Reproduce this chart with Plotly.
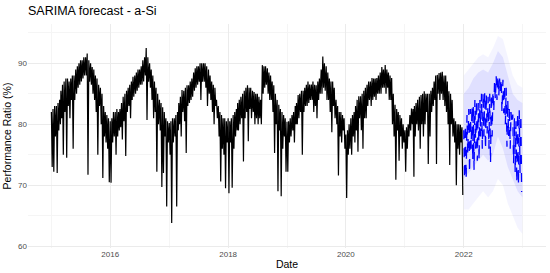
import pandas as pd
import plotly.graph_objects as go

# ---- data ----
# For each year: "top" = band top on days 1, 11, 21 of each month,
#                "low" = band low / dips on days 6, 16, 26 of each month.
years_obs = [2015, 2016, 2017, 2018, 2019, 2020, 2021]

top_2015 = [82, 82.5, 83, 83, 83.5, 84, 85.5, 86.5, 87, 87.5, 87.5, 87,
            87.5, 88, 88, 89, 89.5, 90, 90.5, 90.5, 91, 91, 91.6, 90.5,
            90, 89.4, 89, 88, 87.5, 86.5, 86, 85, 83, 82, 81.5, 81]
low_2015 = [73, 72.2, 78, 72, 79, 80, 81, 75, 82, 74.5, 83, 81,
            84, 76, 84, 85, 86, 86.5, 87, 87.5, 88, 88, 71.7, 87,
            86.5, 85, 84, 82, 75, 83, 80, 71.2, 78, 77, 76, 70.5]

top_2016 = [80.5, 81, 82, 82, 82.5, 82, 82.5, 83.5, 84.5, 85, 85.5, 86,
            86.5, 87, 87.8, 88, 88.5, 89, 89, 89.5, 90.5, 91, 92.5, 91,
            90, 89, 88, 87, 86, 85, 84, 83.5, 82.8, 82, 81, 80.5]
low_2016 = [70.4, 77, 78, 75, 78, 79, 79.5, 77.5, 80.5, 74.8, 82, 83,
            81, 84, 84.5, 85, 85.5, 86, 86.5, 86.5, 87, 88, 80.7, 87,
            86, 84, 81, 82, 72.2, 80, 79, 69.7, 72, 78, 66.5, 77]

top_2017 = [80.2, 80.5, 81, 81, 81.5, 82, 83.5, 84.5, 85.6, 85.5, 86, 86.4,
            86.4, 87, 87.5, 88.5, 89.2, 89.5, 89.5, 90, 90, 90, 90, 89.5,
            89, 88, 87, 86.5, 86, 84, 83, 82, 81.5, 81, 81, 80.5]
low_2017 = [75, 63.8, 77, 78, 66.5, 79, 80, 78, 82, 80.5, 75.3, 83,
            83.5, 84, 84.5, 85.5, 86, 86.5, 87, 84, 87, 87, 86, 83,
            85, 84, 82, 80, 83, 81, 78, 70.6, 76, 75, 69.5, 77]

top_2018 = [81, 80.5, 81, 81.5, 82, 82.5, 83.5, 84, 84.5, 85, 85.5, 86,
            86.4, 86, 86, 85.5, 85.3, 85, 85, 84.5, 84, 89.7, 89.5, 89.5,
            89.2, 88.5, 88, 87, 86.4, 85, 84, 83.2, 82.5, 82, 81.5, 81]
low_2018 = [68.7, 77, 69.6, 76, 78, 79, 79, 80, 81, 73.9, 81, 82,
            77.2, 82.5, 81, 82, 80, 81, 80, 81, 80, 85, 86, 86.5,
            85, 84, 84, 82, 75.3, 80, 69, 79, 68.2, 76, 78, 72.2]

top_2019 = [80.4, 80.5, 81, 81.5, 82, 83, 83.5, 84.8, 85, 85.5, 85.5, 86,
            86.5, 87, 86.5, 86.5, 87, 86.5, 86.4, 87, 87.5, 89, 91.1, 90,
            89.5, 88.5, 87.5, 87, 87, 86, 84, 83, 82, 82, 81.5, 81]
low_2019 = [72.2, 77, 78, 79, 77, 80, 80, 81, 82, 75, 82, 83,
            83, 83.5, 84, 84, 82, 83, 81, 84, 85, 85, 86, 85.5,
            84, 84, 82, 78.7, 83, 81, 80, 71.6, 78, 77, 79, 76]

top_2020 = [78.3, 79, 80, 81, 81.5, 82, 83, 84, 84.6, 84.6, 85, 85.5,
            86, 86.5, 87, 87, 87.6, 87.5, 87.5, 87.6, 88, 88.5, 89.4, 89,
            89.7, 89, 88.5, 88, 87.6, 85, 83.2, 82.5, 82, 81.5, 81, 80]
low_2020 = [67.9, 75, 76, 75, 78, 77, 79, 75.5, 81, 79, 76, 81,
            81, 83, 84, 83, 84, 84.5, 84, 85, 85, 85, 86, 86,
            85, 86, 84, 84, 80, 78, 70.9, 79, 74, 78, 76, 77]

top_2021 = [79, 79.5, 80, 81.5, 82.6, 82.5, 83, 83.5, 84, 84.5, 84.8, 85,
            85.4, 85, 85, 85, 85.5, 86, 87, 88, 88.1, 88.4, 88.5, 88.6,
            88, 88, 87, 85.4, 85, 84, 81, 80.5, 80, 80, 79.9, 79.5]
low_2021 = [72.2, 76, 78, 79, 80, 71.4, 78, 80, 79, 76, 80, 78,
            80, 82, 73.5, 78, 82, 83, 84, 73.5, 85, 84, 85, 84,
            83, 82, 80, 73.3, 80, 78, 77, 70, 76, 75, 77, 68.4]

# forecast for 2022 (same day layout)
fc_top_2022 = [79, 80, 81.5, 82.5, 82.5, 83, 83, 84, 84, 83.5, 84, 85,
               85.3, 85.3, 85, 84.5, 85, 85, 85.5, 87, 88, 88.1, 87.6, 87.5,
               87.3, 86.5, 86, 84, 83, 82, 81.6, 81, 80.5, 82, 82.3, 81.6]
fc_low_2022 = [71, 70.9, 75, 72, 76, 74, 72.5, 76, 74, 74, 78, 76,
               78, 75.8, 78.5, 76, 73.6, 78, 82, 84, 84, 84.5, 85, 82,
               81.8, 80, 76.3, 78, 76, 80, 73.6, 72, 70.4, 70, 72, 68.9]

# prediction intervals (1st of each month + year end)
band_dates = ["2022-01-01", "2022-02-01", "2022-03-01", "2022-04-01", "2022-05-01",
              "2022-06-01", "2022-07-01", "2022-08-01", "2022-09-01", "2022-10-01",
              "2022-11-01", "2022-12-01", "2022-12-31"]
upper95 = [88, 89, 90, 91, 91.5, 91, 92.5, 94.5, 94, 91, 88, 86.5, 86]
lower95 = [66, 66, 67, 68, 69, 68, 69, 71, 70, 67, 65, 63, 62]
upper80 = [85, 86, 87.5, 88.5, 89, 88.5, 90, 92, 91, 88, 85, 84, 83.5]
lower80 = [71, 72, 73, 74, 75, 74, 75, 78, 76, 73, 71, 69, 68]

obs_tops = [top_2015, top_2016, top_2017, top_2018, top_2019, top_2020, top_2021]
obs_lows = [low_2015, low_2016, low_2017, low_2018, low_2019, low_2020, low_2021]


def interleave(year, tops, lows):
    xs, ys = [], []
    k = 0
    for m in range(1, 13):
        for d_top, d_low in ((1, 6), (11, 16), (21, 26)):
            xs += [pd.Timestamp(year, m, d_top), pd.Timestamp(year, m, d_low)]
            ys += [tops[k], lows[k]]
            k += 1
    return xs, ys


obs_x, obs_y = [], []
for y, t, l in zip(years_obs, obs_tops, obs_lows):
    xs, ys = interleave(y, t, l)
    obs_x += xs
    obs_y += ys

fc_x, fc_y = interleave(2022, fc_top_2022, fc_low_2022)

fig = go.Figure()
clear = dict(width=0, color="rgba(0,0,255,0)")
fig.add_trace(go.Scatter(x=band_dates, y=lower95, mode="lines", line=clear,
                         showlegend=False, hoverinfo="skip"))
fig.add_trace(go.Scatter(x=band_dates, y=upper95, mode="lines", fill="tonexty",
                         fillcolor="rgba(0,0,255,0.045)", line=clear,
                         showlegend=False, hoverinfo="skip"))
fig.add_trace(go.Scatter(x=band_dates, y=lower80, mode="lines", line=clear,
                         showlegend=False, hoverinfo="skip"))
fig.add_trace(go.Scatter(x=band_dates, y=upper80, mode="lines", fill="tonexty",
                         fillcolor="rgba(0,0,255,0.08)", line=clear,
                         showlegend=False, hoverinfo="skip"))
fig.add_trace(go.Scatter(x=obs_x, y=obs_y, mode="lines",
                         line=dict(color="black", width=1.2),
                         showlegend=False))
fig.add_trace(go.Scatter(x=fc_x, y=fc_y, mode="lines",
                         line=dict(color="blue", width=1.3, dash="dash"),
                         showlegend=False))

grid_major = "#ebebeb"
grid_minor = "#f5f5f5"
fig.update_layout(
    width=550, height=273,
    margin=dict(l=28, r=4, t=24, b=25),
    paper_bgcolor="white", plot_bgcolor="white",
    font=dict(family="Liberation Sans, Arial, sans-serif", color="black"),
    title=dict(text="SARIMA forecast - a-Si", x=28 / 550, xanchor="left",
               y=1 - 11 / 273, yanchor="middle",
               font=dict(size=12.5, color="black")),
    xaxis=dict(
        type="date",
        range=["2014-08-09", "2023-05-26"],
        tick0="2016-01-01", dtick="M24", tickformat="%Y",
        showgrid=True, gridcolor=grid_major, gridwidth=1,
        minor=dict(dtick="M12", tick0="2015-01-01", showgrid=True,
                   gridcolor=grid_minor, gridwidth=0.6),
        zeroline=False, showline=False, ticks="",
        tickfont=dict(size=8, color="#4d4d4d"),
        title=dict(text="Date", font=dict(size=10.5, color="black"), standoff=2),
    ),
    yaxis=dict(
        range=[59.7, 96.45],
        tick0=60, dtick=10,
        showgrid=True, gridcolor=grid_major, gridwidth=1,
        minor=dict(dtick=5, tick0=65, showgrid=True,
                   gridcolor=grid_minor, gridwidth=0.6),
        zeroline=False, showline=False, ticks="",
        tickfont=dict(size=8, color="#4d4d4d"),
        title=dict(text="Performance Ratio (%)", font=dict(size=10.5, color="black"),
                   standoff=4),
    ),
)

fig.write_html("out.html")
